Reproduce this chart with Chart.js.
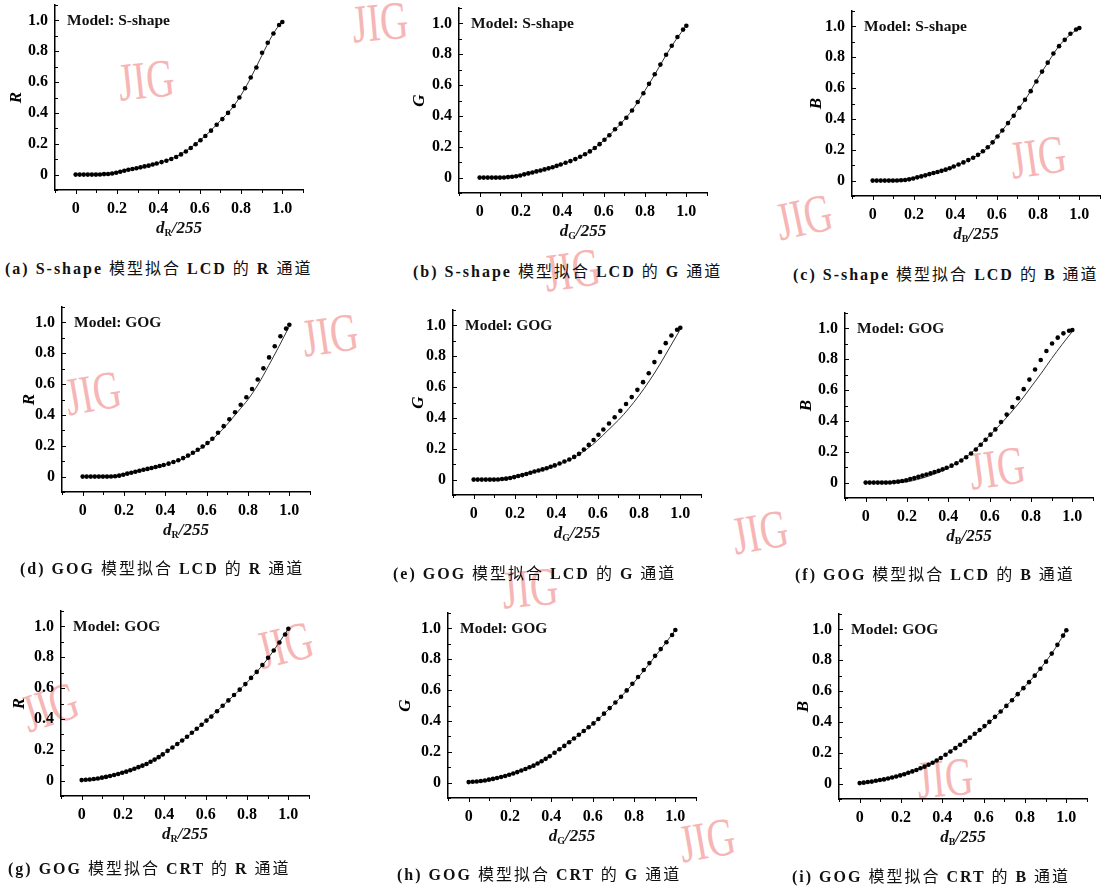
<!DOCTYPE html>
<html lang="zh">
<head>
<meta charset="UTF-8">
<title>S-shape 与 GOG 模型拟合曲线</title>
<script src="https://cdn.jsdelivr.net/npm/chart.js"></script>
<style>
  body { margin:0; background:#fff; width:1115px; height:887px; position:relative; overflow:hidden; font-family:'Liberation Serif', serif; color:#111; }
  .wm { position:absolute; font-family:'Liberation Serif', serif; font-size:54px; color:#f6b6b6; line-height:1; white-space:nowrap; z-index:0; }
  canvas { position:absolute; z-index:1; }
  .model { position:absolute; z-index:2; font-weight:bold; font-size:15.5px; line-height:1; white-space:nowrap; transform:translateY(-50%); }
  .xt { position:absolute; z-index:2; font-weight:bold; font-style:italic; font-size:17px; transform:translate(-50%,-50%); white-space:nowrap; }
  .xt sub { font-size:10px; font-style:normal; vertical-align:-3px; }
  .cap { position:absolute; z-index:2; font-weight:bold; font-size:16px; letter-spacing:2px; white-space:nowrap; transform:translateY(-50%); }
  .cap .cjk { font-family:'Noto Sans CJK SC'; font-weight:normal; }
</style>
</head>
<body>
<script>
// d/255 sample levels of the measured points (denser at the dark end)
const levels = [0,5,10,15,20,25,30,35,40,45,50,55,60,65,70,75,80,85,90,95,100,
  106,112,118,124,130,136,142,148,154,160,
  167,174,181,188,195,202,209,216,223,230,237,244,251,255];
// x positions of the fitted curves
const fitSteps = [0,0.05,0.1,0.15,0.2,0.25,0.3,0.35,0.4,0.45,0.5,0.55,0.6,0.65,0.7,0.75,0.8,0.85,0.9,0.95,1.0];
const tickValues = [0,0.2,0.4,0.6,0.8,1.0];

// (a)-(c) S-shape, LCD
const lcdSR = [0,0,0,0,0,0,0.001,0.003,0.004,0.007,0.012,0.018,0.025,0.031,0.036,0.041,0.047,0.053,0.058,0.065,0.072,
  0.081,0.09,0.101,0.114,0.131,0.15,0.172,0.197,0.223,0.25,
  0.285,0.323,0.36,0.4,0.445,0.5,0.56,0.63,0.695,0.79,0.855,0.915,0.97,0.99];
const lcdSRFit = [0,0,0,0.003,0.014,0.03,0.043,0.058,0.075,0.097,0.125,0.168,0.22,0.28,0.35,0.42,0.515,0.635,0.77,0.9,1.0];
const lcdSG = [0,0,0,0,0,0,0.001,0.003,0.005,0.009,0.014,0.021,0.027,0.033,0.04,0.046,0.053,0.06,0.067,0.076,0.085,
  0.096,0.107,0.12,0.135,0.151,0.17,0.192,0.217,0.245,0.275,
  0.314,0.35,0.388,0.435,0.49,0.547,0.608,0.67,0.733,0.797,0.855,0.912,0.96,0.985];
const lcdSGFit = [0,0,0,0.004,0.016,0.032,0.049,0.066,0.089,0.113,0.144,0.185,0.24,0.305,0.375,0.46,0.565,0.675,0.79,0.895,0.985];
const lcdSB = [0,0,0,0,0,0,0.001,0.002,0.004,0.008,0.014,0.021,0.027,0.034,0.042,0.049,0.056,0.063,0.071,0.08,0.091,
  0.104,0.118,0.133,0.148,0.167,0.19,0.216,0.248,0.286,0.325,
  0.373,0.421,0.472,0.524,0.58,0.643,0.707,0.765,0.824,0.872,0.913,0.952,0.98,0.99];
const lcdSBFit = [0,0,0,0.003,0.016,0.033,0.051,0.07,0.097,0.125,0.158,0.205,0.28,0.365,0.455,0.55,0.665,0.77,0.87,0.94,0.99];

// (d)-(f) GOG, LCD
const lcdGR = [0,0,0,0,0,0,0,0.001,0.002,0.006,0.012,0.019,0.025,0.031,0.038,0.044,0.05,0.056,0.062,0.069,0.075,
  0.084,0.095,0.106,0.12,0.136,0.155,0.174,0.195,0.218,0.245,
  0.284,0.327,0.372,0.417,0.466,0.515,0.568,0.63,0.702,0.773,0.845,0.91,0.96,0.985];
const lcdGRFit = [0,0,0,0.002,0.012,0.027,0.045,0.062,0.078,0.1,0.125,0.165,0.21,0.27,0.34,0.42,0.5,0.6,0.72,0.845,0.975];
const lcdGG = [0,0,0,0,0,0,0.001,0.004,0.006,0.01,0.016,0.023,0.029,0.036,0.044,0.052,0.059,0.066,0.074,0.083,0.092,
  0.104,0.117,0.13,0.147,0.167,0.195,0.225,0.257,0.291,0.325,
  0.364,0.404,0.446,0.49,0.535,0.582,0.632,0.69,0.762,0.828,0.885,0.935,0.972,0.985];
const lcdGGFit = [0,0,0,0.004,0.016,0.033,0.052,0.072,0.093,0.12,0.155,0.2,0.255,0.32,0.385,0.46,0.545,0.64,0.745,0.86,0.975];
const lcdGB = [0,0,0,0,0,0,0.001,0.003,0.006,0.01,0.015,0.023,0.03,0.037,0.045,0.052,0.06,0.068,0.076,0.086,0.096,
  0.11,0.125,0.143,0.164,0.189,0.215,0.245,0.278,0.311,0.345,
  0.393,0.441,0.49,0.547,0.606,0.668,0.734,0.795,0.854,0.902,0.94,0.968,0.985,0.99];
const lcdGBFit = [0,0,0,0,0.005,0.02,0.04,0.065,0.095,0.135,0.18,0.24,0.305,0.375,0.45,0.53,0.62,0.71,0.805,0.895,0.98];

// (g)-(i) GOG, CRT
const crtR = [0.003,0.005,0.007,0.01,0.014,0.019,0.024,0.03,0.036,0.043,0.051,0.058,0.067,0.077,0.087,0.097,0.108,0.122,0.136,0.152,0.17,
  0.193,0.215,0.237,0.26,0.284,0.31,0.336,0.362,0.389,0.415,
  0.45,0.485,0.52,0.555,0.59,0.626,0.666,0.705,0.75,0.797,0.844,0.896,0.948,0.985];
const crtRFit = [0.003,0.008,0.02,0.034,0.052,0.074,0.1,0.133,0.178,0.225,0.273,0.327,0.385,0.445,0.507,0.57,0.637,0.71,0.79,0.885,0.985];
const crtG = [0.003,0.005,0.007,0.01,0.014,0.019,0.024,0.03,0.036,0.043,0.051,0.059,0.068,0.078,0.088,0.099,0.11,0.124,0.138,0.154,0.171,
  0.194,0.216,0.238,0.262,0.286,0.31,0.335,0.359,0.384,0.412,
  0.447,0.483,0.519,0.557,0.598,0.641,0.685,0.73,0.775,0.822,0.866,0.91,0.957,0.99];
const crtGFit = [0.003,0.008,0.02,0.034,0.054,0.076,0.102,0.137,0.18,0.228,0.276,0.327,0.378,0.44,0.505,0.575,0.65,0.73,0.815,0.9,0.99];
const crtB = [0.003,0.006,0.01,0.013,0.018,0.023,0.027,0.033,0.039,0.046,0.053,0.061,0.07,0.079,0.088,0.099,0.11,0.122,0.135,0.15,0.166,
  0.187,0.208,0.23,0.252,0.275,0.298,0.323,0.348,0.373,0.4,
  0.433,0.468,0.504,0.541,0.58,0.619,0.658,0.7,0.745,0.791,0.843,0.9,0.96,0.995];
const crtBFit = [0.003,0.01,0.022,0.037,0.058,0.078,0.102,0.133,0.175,0.222,0.267,0.313,0.362,0.425,0.49,0.56,0.63,0.705,0.79,0.885,0.995];

// L = y-axis pixel x, B = x-axis pixel y
const panels = [
  {L:55,  B:190, pts:lcdSR, fit:lcdSRFit, ch:'R', model:'S-shape', cap:'(a) S-shape 模型拟合 LCD 的 R 通道', capX:5,   capY:267, gap:40},
  {L:459, B:193, pts:lcdSG, fit:lcdSGFit, ch:'G', model:'S-shape', cap:'(b) S-shape 模型拟合 LCD 的 G 通道', capX:413, capY:270, gap:41},
  {L:852, B:196, pts:lcdSB, fit:lcdSBFit, ch:'B', model:'S-shape', cap:'(c) S-shape 模型拟合 LCD 的 B 通道', capX:793, capY:273, gap:37},
  {L:62,  B:492, pts:lcdGR, fit:lcdGRFit, ch:'R', model:'GOG', cap:'(d) GOG 模型拟合 LCD 的 R 通道', capX:20,  capY:567, gap:34},
  {L:453, B:495, pts:lcdGG, fit:lcdGGFit, ch:'G', model:'GOG', cap:'(e) GOG 模型拟合 LCD 的 G 通道', capX:393, capY:572, gap:36},
  {L:845, B:498, pts:lcdGB, fit:lcdGBFit, ch:'B', model:'GOG', cap:'(f) GOG 模型拟合 LCD 的 B 通道', capX:795, capY:573, gap:40},
  {L:61,  B:796, pts:crtR,  fit:crtRFit,  ch:'R', model:'GOG', cap:'(g) GOG 模型拟合 CRT 的 R 通道', capX:8,   capY:867, gap:43},
  {L:448, B:798, pts:crtG,  fit:crtGFit,  ch:'G', model:'GOG', cap:'(h) GOG 模型拟合 CRT 的 G 通道', capX:397, capY:873, gap:44},
  {L:839, B:799, pts:crtB,  fit:crtBFit,  ch:'B', model:'GOG', cap:'(i) GOG 模型拟合 CRT 的 B 通道', capX:792, capY:875, gap:37}
];

// journal watermarks
const marks = [
  [146,80,-6],[380,22,-5],[804,217,-12],[1038,157,-8],[572,270,-8],[330,335,-8],[93,393,-10],
  [997,468,-8],[760,532,-10],[530,588,-5],[285,645,-14],[50,707,-18],[707,840,-10],[945,778,-5]
];

const PLOT_W = 248, PLOT_H = 185, AX_W = 55, AX_H = 30, PAD = 10;

function add(tag, cls, html, style) {
  const el = document.createElement(tag);
  el.className = cls;
  el.innerHTML = html;
  Object.assign(el.style, style);
  document.body.appendChild(el);
  return el;
}

marks.forEach(([x, y, r]) => {
  add('div', 'wm', 'JIG', {left: x + 'px', top: y + 'px', transform: `translate(-50%,-50%) rotate(${r}deg) scaleX(0.72)`});
});

const minorTicks = {
  id: 'minorTicks',
  afterDraw(chart) {
    const {ctx, scales: {x, y}} = chart;
    ctx.save();
    ctx.strokeStyle = '#000';
    ctx.lineWidth = 1;
    for (let k = -1; k <= 11; k++) {
      const v = k / 10;
      const len = k % 2 === 0 ? 4 : 3;
      const px = Math.round(x.getPixelForValue(v)) + 0.5;
      ctx.beginPath(); ctx.moveTo(px, y.bottom); ctx.lineTo(px, y.bottom + len); ctx.stroke();
      const py = Math.round(y.getPixelForValue(v)) + 0.5;
      ctx.beginPath(); ctx.moveTo(x.left, py); ctx.lineTo(x.left + len, py); ctx.stroke();
    }
    ctx.restore();
  }
};

const tickFont = {family: 'Liberation Serif', weight: 'bold', size: 16};

panels.forEach(p => {
  const top = p.B - PLOT_H;
  const cv = document.createElement('canvas');
  cv.width = AX_W + PLOT_W + PAD;
  cv.height = PAD + PLOT_H + AX_H;
  cv.style.left = (p.L - AX_W) + 'px';
  cv.style.top = (top - PAD) + 'px';
  document.body.appendChild(cv);

  new Chart(cv, {
    type: 'scatter',
    data: {
      datasets: [
        {
          data: levels.map((d, i) => ({x: d / 255, y: p.pts[i]})),
          pointRadius: 2.3, pointBackgroundColor: '#000', pointBorderWidth: 0, showLine: false
        },
        {
          data: fitSteps.map((x, i) => ({x: x, y: p.fit[i]})),
          showLine: true, borderColor: '#333', borderWidth: 1, pointRadius: 0,
          cubicInterpolationMode: 'monotone'
        }
      ]
    },
    options: {
      responsive: false,
      animation: false,
      devicePixelRatio: 1,
      layout: {padding: {top: PAD, right: PAD, left: 0, bottom: 0}},
      plugins: {legend: {display: false}, tooltip: {enabled: false}},
      scales: {
        x: {
          type: 'linear', min: -0.1, max: 1.1,
          afterBuildTicks: s => { s.ticks = tickValues.map(v => ({value: v})); },
          afterFit: s => { s.height = AX_H; s.paddingLeft = 0; s.paddingRight = 0; },
          grid: {display: false, drawTicks: false},
          border: {color: '#000', width: 1.5},
          ticks: {color: '#000', padding: 9, font: tickFont, maxRotation: 0, autoSkip: false,
                  callback: v => v === 0 ? '0' : v.toFixed(1)}
        },
        y: {
          type: 'linear', min: -0.1, max: 1.1,
          afterBuildTicks: s => { s.ticks = tickValues.map(v => ({value: v})); },
          afterFit: s => { s.width = AX_W; s.paddingTop = 0; s.paddingBottom = 0; },
          grid: {display: false, drawTicks: false},
          border: {color: '#000', width: 1.5},
          title: {display: true, text: p.ch, color: '#000',
                  font: {family: 'Liberation Serif', style: 'italic', weight: 'bold', size: 17},
                  padding: {top: 46 - p.gap, bottom: 0}},
          ticks: {color: '#000', padding: 7, font: tickFont, autoSkip: false,
                  callback: v => v === 0 ? '0' : v.toFixed(1)}
        }
      }
    },
    plugins: [minorTicks]
  });

  add('div', 'model', 'Model: ' + p.model, {left: (p.L + 12) + 'px', top: (top + 15) + 'px'});
  add('div', 'xt', '<span>d</span><sub>' + p.ch + '</sub>/255', {left: (p.L + PLOT_W / 2) + 'px', top: (p.B + 38) + 'px'});
  add('div', 'cap', p.cap.replace(/([\u4e00-\u9fff]+)/g, '<span class="cjk">$1</span>'),
      {left: p.capX + 'px', top: p.capY + 'px'});
});
</script>
</body>
</html>
